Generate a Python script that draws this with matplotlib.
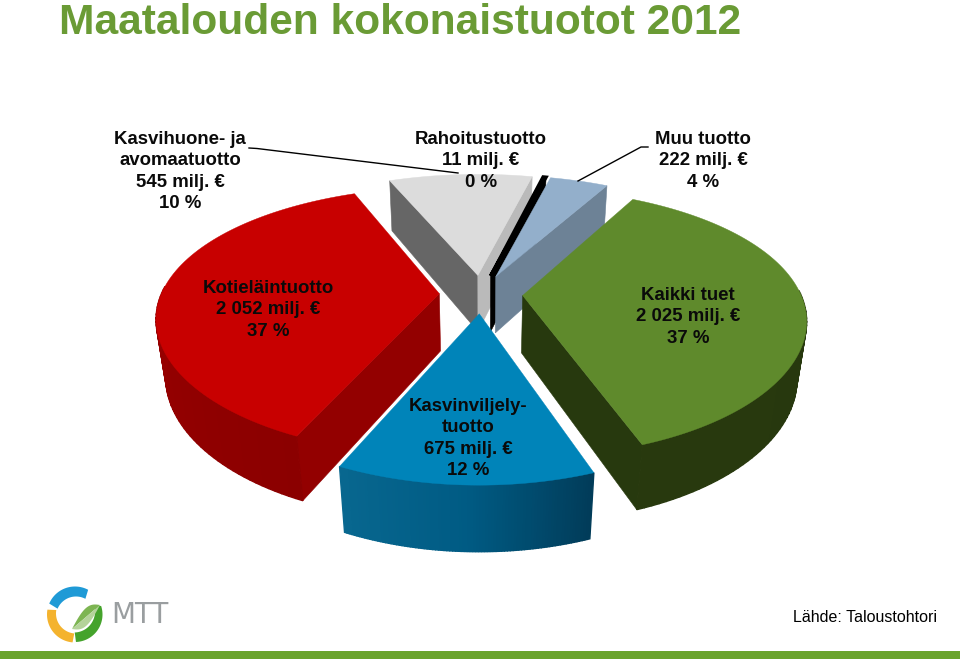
import numpy as np
import matplotlib
matplotlib.use('Agg')
import matplotlib.pyplot as plt
from matplotlib.colors import LinearSegmentedColormap
from matplotlib.patches import Polygon

# clockwise from the green slice
values = [2025, 675, 2052, 545, 11, 222]
top_colors = ['#5f8a2c', '#0084b9', '#c80000', '#dcdcdc', '#000000', '#93afcb']
start_face = ['#27390e', '#004a6c', '#930000', '#666666', '#000000', '#6d8296']
end_face = ['#27390e', '#004a6c', '#930000', '#bababa', '#000000', '#6d8296']
wall_stops = [['#28390e', '#26370e'],
              ['#08678f', '#005b84', '#013c59'],
              ['#a50000', '#8b0000'],
              ['#666666', '#888888'],
              ['#000000', '#000000'],
              ['#6d8296', '#6d8296']]

title = 'Maatalouden kokonaistuotot 2012'
source = 'Lähde: Taloustohtori'
labels = ['Kaikki tuet\n2 025 milj. €\n37 %',
          'Kasvinviljely-\ntuotto\n675 milj. €\n12 %',
          'Kotieläintuotto\n2 052 milj. €\n37 %',
          'Kasvihuone- ja\navomaatuotto\n545 milj. €\n10 %',
          'Rahoitustuotto\n11 milj. €\n0 %',
          'Muu tuotto\n222 milj. €\n4 %']
label_pos = [(688, 287), (468, 398), (268, 280), (180, 131), (481, 131), (703, 131)]

# pie camera
cx, cy = 481, 294
rx, ry = 278, 128
persp_x, persp_y, persp_z, depth = 0.17, 0.2, 0.03, 59
explode = 0.15
start_angle = 28.5


def project(u, v, z=0.0):
    wx = 1 + persp_x * v + persp_z * z
    wy = 1 + persp_y * v + persp_z * z
    return cx + rx * u / wx, cy - (ry * v - depth * z) / wy


def area(pts):
    x, y = np.array(pts).T
    return 0.5 * np.sum(x * np.roll(y, -1) - np.roll(x, -1) * y)


plt.rcParams['font.family'] = ['Liberation Sans', 'DejaVu Sans']
fig = plt.figure(figsize=(9.6, 6.59), dpi=100)
ax = fig.add_axes([0, 0, 1, 1])
ax.set_xlim(0, 960)
ax.set_ylim(659, 0)
ax.axis('off')

shares = np.array(values) / np.sum(values) * 360
edges = start_angle + np.concatenate([[0], np.cumsum(shares)])

slices = []
for i in range(len(values)):
    slices.append((i, edges[i], edges[i + 1]))
# far slices first
slices.sort(key=lambda s: -np.cos(np.radians((s[1] + s[2]) / 2)))

for i, t0, t1 in slices:
    mid = np.radians((t0 + t1) / 2)
    ou, ov = explode * np.sin(mid), explode * np.cos(mid)
    th = np.radians(np.linspace(t0, t1, 90))
    u = ou + np.sin(th)
    v = ov + np.cos(th)

    # cut faces
    for t, col, sign in [(t0, start_face[i], 1), (t1, end_face[i], -1)]:
        eu, ev = ou + np.sin(np.radians(t)), ov + np.cos(np.radians(t))
        pts = [project(ou, ov), project(eu, ev), project(eu, ev, 1), project(ou, ov, 1)]
        if area(pts) * sign < 0:  # y axis runs down here
            ax.add_patch(Polygon(pts, closed=True, fc=col, ec=col, lw=0.4))

    # outer wall, only the part facing the viewer
    cmap = LinearSegmentedColormap.from_list('w', wall_stops[i][::-1])
    for j in range(len(th) - 1):
        if np.cos(th[j]) > 0.05:
            continue
        q = [project(u[j], v[j]), project(u[j + 1], v[j + 1]),
             project(u[j + 1], v[j + 1], 1), project(u[j], v[j], 1)]
        col = cmap(j / (len(th) - 2))
        ax.add_patch(Polygon(q, closed=True, fc=col, ec=col, lw=1.0))

    # top
    tx, ty = project(np.r_[ou, u], np.r_[ov, v])
    lw = 2.5 if i == 4 else 0.3
    ax.add_patch(Polygon(np.c_[tx, ty], closed=True, fc=top_colors[i], ec=top_colors[i], lw=lw))

# leader lines
ax.plot([249, 257, 458], [148, 148.5, 173], color='black', lw=1)
ax.plot([648, 641, 578], [147, 147, 181], color='black', lw=1)

for lab, (x, y) in zip(labels, label_pos):
    ax.text(x, y, lab, ha='center', va='top', fontsize=13.4, fontweight='bold',
            color='#0a0a0a', linespacing=1.33)

ax.text(59, 23, title, ha='left', va='center', fontsize=30.6, fontweight='bold', color='#6a9b35')
ax.text(793, 617, source, ha='left', va='center', fontsize=11.5, color='black')

# footer bar
ax.add_patch(Polygon([(0, 651), (960, 651), (960, 659), (0, 659)], fc='#6aa42c', ec='none'))


# logo
def ring(x0, y0, r0, r1, a0, a1, col, dx=0.0, dy=0.0):
    t = np.radians(np.linspace(a0, a1, 50))
    tr = t[::-1]
    pts = np.r_[np.c_[x0 + r1 * np.cos(t), y0 - r1 * np.sin(t)],
                np.c_[x0 + dx + r0 * np.cos(tr), y0 + dy - r0 * np.sin(tr)]]
    ax.add_patch(Polygon(pts, closed=True, fc=col, ec='none'))


ring(75, 614.5, 20, 28, 62, 157, '#1f9ad6', dx=1, dy=2)
ring(75, 614.5, 20, 28, 170, 265, '#f4b32e', dx=1, dy=-1)
ring(75, 614.5, 21, 27.5, 272, 378, '#45a32c', dx=-1, dy=-3)
lt = np.linspace(0, 1, 40)
bulge = 9 * np.sin(np.pi * lt)
leaf_up = np.c_[72 + 28 * lt, 629 - 24 * lt - bulge]
mid_rib = np.c_[72 + 28 * lt, 629 - 24 * lt]
leaf_low = np.c_[100 - 28 * lt, 605 + 24 * lt + bulge]
ax.add_patch(Polygon(np.r_[leaf_up, mid_rib[::-1]], closed=True, fc='#7db552', ec='none'))
ax.add_patch(Polygon(np.r_[mid_rib, leaf_low], closed=True, fc='#b4d39a', ec='none'))
ax.text(111, 615, 'MTT', ha='left', va='center', fontsize=20, color='#9a9ea0',
        family='DejaVu Sans')

fig.savefig('out.png', dpi=100)
